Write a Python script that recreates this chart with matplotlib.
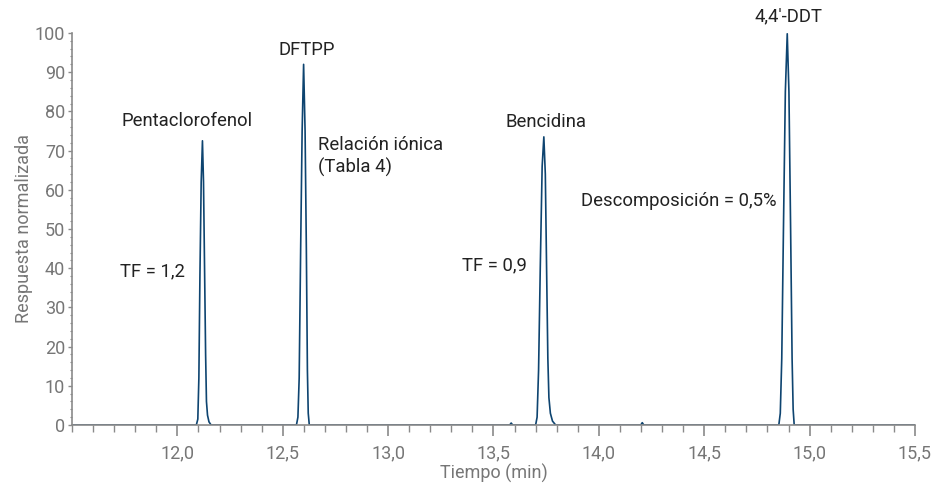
"""Cromatograma de evaluación del sistema (respuesta normalizada frente a tiempo)."""

import matplotlib
matplotlib.use("Agg")
import matplotlib.pyplot as plt
from matplotlib.ticker import MultipleLocator, FixedLocator

plt.rcParams["font.family"] = ["Roboto", "DejaVu Sans"]

# ---------------------------------------------------------------------------
# Data (time in min, normalised response)
# ---------------------------------------------------------------------------
pcp_time = [12.090, 12.097, 12.102, 12.107, 12.113, 12.119, 12.124, 12.129,
            12.134, 12.138, 12.143, 12.150, 12.160]
pcp_resp = [0, 1.5, 12, 38, 62, 72.5, 62, 40, 18, 6, 2.5, 0.8, 0]

dftpp_time = [12.565, 12.572, 12.578, 12.585, 12.592, 12.599, 12.606, 12.612,
              12.617, 12.621, 12.626]
dftpp_resp = [0, 2, 12, 45, 75, 92, 75, 45, 14, 3, 0]

bump1_time = [13.577, 13.584, 13.591]
bump1_resp = [0, 0.5, 0]

benz_time = [13.700, 13.707, 13.714, 13.722, 13.731, 13.739, 13.746, 13.752,
             13.758, 13.763, 13.770, 13.780, 13.795]
benz_resp = [0, 2, 14, 40, 66, 73.5, 64, 40, 17, 7, 3, 1, 0]

bump2_time = [14.199, 14.206, 14.213]
bump2_resp = [0, 0.6, 0]

ddt_time = [14.854, 14.861, 14.868, 14.876, 14.885, 14.894, 14.902, 14.910,
            14.917, 14.922, 14.927]
ddt_resp = [0, 3, 17, 50, 85, 99.8, 85, 50, 17, 4, 0]

time = ([11.5] + pcp_time + dftpp_time + bump1_time + benz_time
        + bump2_time + ddt_time + [15.5])
resp = ([0] + pcp_resp + dftpp_resp + bump1_resp + benz_resp
        + bump2_resp + ddt_resp + [0])

x_ticks = [12.0, 12.5, 13.0, 13.5, 14.0, 14.5, 15.0, 15.5]
y_ticks = [0, 10, 20, 30, 40, 50, 60, 70, 80, 90, 100]

# label text, x, y, horizontal alignment
labels = [
    ("Pentaclorofenol", 12.046, 77.6, "center"),
    ("DFTPP", 12.614, 95.7, "center"),
    ("Relación iónica\n(Tabla 4)", 12.666, 68.4, "left"),
    ("Bencidina", 13.747, 77.3, "center"),
    ("Descomposición = 0,5%", 14.379, 57.1, "center"),
    ("4,4'-DDT", 14.899, 104.3, "center"),
    ("TF = 1,2", 11.883, 39.3, "center"),
    ("TF = 0,9", 13.505, 40.6, "center"),
]

# ---------------------------------------------------------------------------
# Figure
# ---------------------------------------------------------------------------
fig = plt.figure(figsize=(9.45, 4.87), dpi=100)
ax = fig.add_axes([0.0762, 0.1273, 0.892, 0.805])

ax.plot(time, resp, color="#0e4470", lw=1.2)

ax.set_xlim(11.5, 15.5)
ax.set_ylim(0, 100)

ax.xaxis.set_major_locator(FixedLocator(x_ticks))
ax.xaxis.set_minor_locator(MultipleLocator(0.1))
ax.set_xticklabels([f"{v:.1f}".replace(".", ",") for v in x_ticks])
ax.set_yticks(y_ticks)
ax.yaxis.set_minor_locator(MultipleLocator(2))

gray = "#8a8a8a"
label_gray = "#767676"
for side in ("top", "right"):
    ax.spines[side].set_visible(False)
for side in ("left", "bottom"):
    ax.spines[side].set_color(gray)
    ax.spines[side].set_linewidth(1.2)

ax.tick_params(axis="x", which="major", direction="out", length=8,
               width=1.2, color=gray, labelcolor=label_gray, labelsize=13, pad=6)
ax.tick_params(axis="x", which="minor", direction="out", length=5,
               width=1, color=gray)
ax.tick_params(axis="y", which="major", direction="out", length=3,
               width=1, color=gray, labelcolor=label_gray, labelsize=13, pad=2)
ax.tick_params(axis="y", which="minor", direction="out", length=1.5,
               width=0.8, color=gray)

ax.set_xlabel("Tiempo (min)", color=label_gray, fontsize=13, labelpad=1)
ax.set_ylabel("Respuesta normalizada", color=label_gray, fontsize=13,
              labelpad=1)

for text, x, y, ha in labels:
    ax.text(x, y, text, ha=ha, va="center", fontsize=13.3, color="#222222",
            clip_on=False, linespacing=1.25)

fig.savefig("out.png", dpi=100)
